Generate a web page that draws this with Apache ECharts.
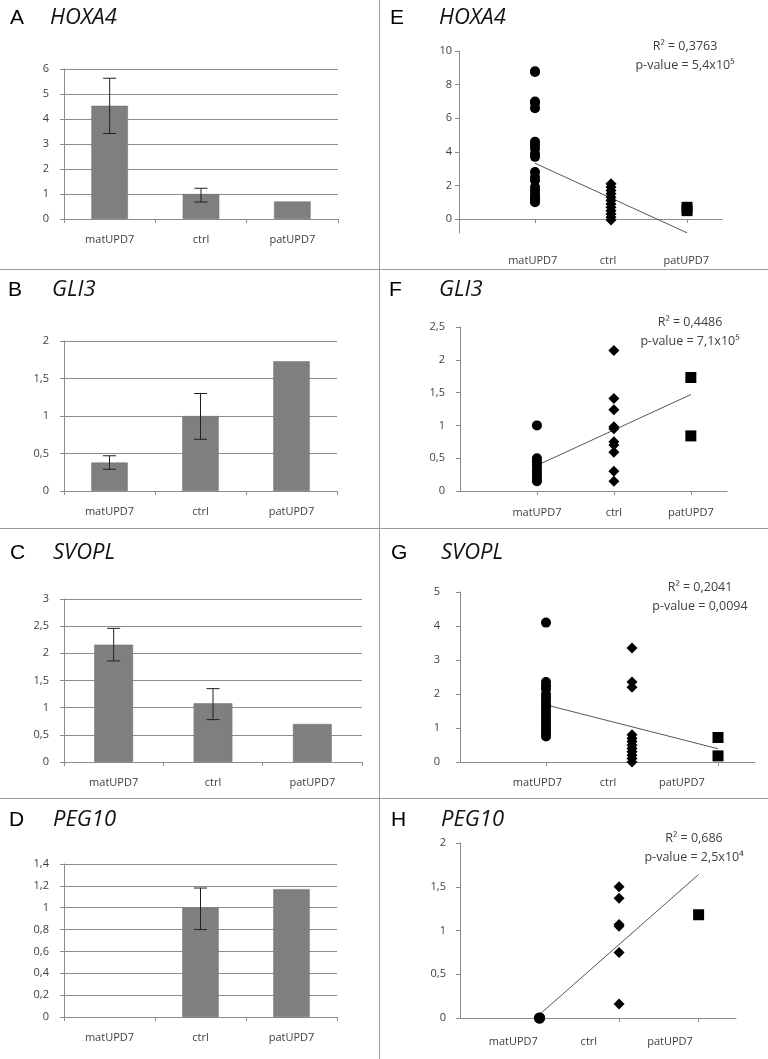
<!DOCTYPE html>
<html><head><meta charset="utf-8">
<script src="https://cdn.jsdelivr.net/npm/echarts@6/dist/echarts.min.js"></script>
<style>html,body{margin:0;padding:0;background:#fff}#c{width:768px;height:1059px}</style>
</head><body><div id="c"></div>
<script>
// ---------- data ----------
const categories = ['matUPD7', 'ctrl', 'patUPD7'];
const panelLetters = ['A', 'B', 'C', 'D', 'E', 'F', 'G', 'H'];
const genes = ['HOXA4', 'GLI3', 'SVOPL', 'PEG10'];

// bar panels (mean expression, error bars low/high)
const hoxa4Bar = [4.53, 1.0, 0.7];
const hoxa4Err = [[3.42, 5.63], [0.68, 1.23], null];
const gli3Bar = [0.38, 1.0, 1.73];
const gli3Err = [[0.29, 0.47], [0.69, 1.30], null];
const svoplBar = [2.16, 1.08, 0.7];
const svoplErr = [[1.86, 2.46], [0.78, 1.35], null];
const peg10Bar = [null, 1.0, 1.17];
const peg10Err = [null, [0.80, 1.18], null];

// scatter panels
const hoxa4Mat = [8.8, 8.75, 7.0, 6.9, 6.6, 4.6, 4.4, 4.2, 3.9, 3.7, 2.8, 2.5, 2.3, 1.9, 1.7, 1.5, 1.3, 1.2, 1.1, 1.0];
const hoxa4Ctrl = [2.1, 1.9, 1.7, 1.5, 1.3, 1.1, 0.9, 0.7, 0.5, 0.3, 0.1, -0.05];
const hoxa4Pat = [0.7, 0.5];
const hoxa4Trend = [3.32, -0.82];

const gli3Mat = [1.0, 0.5, 0.45, 0.4, 0.35, 0.3, 0.25, 0.2, 0.15];
const gli3Ctrl = [2.14, 1.41, 1.24, 0.98, 0.95, 0.75, 0.70, 0.59, 0.30, 0.15];
const gli3Pat = [1.73, 0.84];
const gli3Trend = [0.39, 1.47];

const svoplMat = [4.1, 2.35, 2.25, 2.15, 2.0, 1.9, 1.8, 1.7, 1.6, 1.5, 1.4, 1.3, 1.2, 1.1, 1.0, 0.9, 0.8, 0.75];
const svoplCtrl = [3.35, 2.35, 2.2, 0.8, 0.7, 0.6, 0.5, 0.4, 0.3, 0.2, 0.1, 0.0];
const svoplPat = [0.72, 0.18];
const svoplTrend = [1.68, 0.39];

const peg10Mat = [0, 0];
const peg10Ctrl = [1.50, 1.37, 1.07, 1.05, 0.75, 0.16];
const peg10Pat = [1.18];
const peg10Trend = [0.04, 1.64];

const stats = [
  ['R\u00B2 = 0,3763', 'p-value = 5,4x10\u2075'],
  ['R\u00B2 = 0,4486', 'p-value = 7,1x10\u2075'],
  ['R\u00B2 = 0,2041', 'p-value = 0,0094'],
  ['R\u00B2 = 0,686', 'p-value = 2,5x10\u2074']
];

const barAxes = [[6, 1], [2, 0.5], [3, 0.5], [1.4, 0.2]];
const scatterAxes = [[-0.83, 10, 2], [0, 2.5, 0.5], [0, 5, 1], [0, 2, 0.5]];
const scatterTicks = [0, 2, 4, 6, 8, 10];

// ---------- layout ----------
const barGrids = [
  {left: 64, top: 69, width: 274, height: 150},
  {left: 64, top: 341, width: 273, height: 150},
  {left: 64, top: 599, width: 298, height: 163},
  {left: 64, top: 864, width: 273, height: 153}
];
const scatGrids = [
  {left: 459, top: 51, width: 263, height: 182},
  {left: 460, top: 327, width: 267, height: 164},
  {left: 460, top: 592, width: 295, height: 170},
  {left: 460, top: 843, width: 276, height: 175}
];
const scatXMax = [3.46, 3.47, 3.43, 3.47];
const scatLabelPos = [[0.97, 1.96, 2.99], [1, 2, 3], [0.90, 1.72, 2.58], [0.67, 1.62, 2.64]];
const scatLabelMargin = [22, 16, 15, 18];
const scatYMargin = [7, 15, 20, 14];
const barWidths = ['40%', '40%', '39%', '40%'];
const letterPos = [[10, 18], [8, 290], [10, 553], [9, 820], [390, 18], [389, 290], [391, 553], [391, 820]];
const genePos = [[50, 18], [52, 290], [53, 553], [53, 820], [439, 18], [439, 290], [441, 553], [441, 820]];
const statPos = [[685, 46, 65], [690, 322, 341], [700, 587, 606], [694, 838, 857]];

const AX = '#8c8c8c';
const TXT = '#404040';
const FONT = 'Open Sans';
const fmt = v => String(Math.round(v * 10) / 10).replace('.', ',');

const barSets = [[hoxa4Bar, hoxa4Err], [gli3Bar, gli3Err], [svoplBar, svoplErr], [peg10Bar, peg10Err]];
const scatSets = [
  [hoxa4Mat, hoxa4Ctrl, hoxa4Pat, hoxa4Trend],
  [gli3Mat, gli3Ctrl, gli3Pat, gli3Trend],
  [svoplMat, svoplCtrl, svoplPat, svoplTrend],
  [peg10Mat, peg10Ctrl, peg10Pat, peg10Trend]
];

const grid = [], xAxis = [], yAxis = [], series = [];

barSets.forEach((set, i) => {
  const g = grid.length;
  grid.push(barGrids[i]);
  xAxis.push({
    gridIndex: g, type: 'category', data: categories,
    axisLine: {lineStyle: {color: AX}},
    axisTick: {show: true, length: 4, lineStyle: {color: AX}},
    axisLabel: {color: TXT, fontFamily: FONT, fontSize: 11, margin: 15}
  });
  yAxis.push({
    gridIndex: g, type: 'value', min: 0, max: barAxes[i][0], interval: barAxes[i][1],
    axisLine: {show: true, lineStyle: {color: AX}},
    axisTick: {show: true, length: 4, lineStyle: {color: AX}},
    splitLine: {show: true, lineStyle: {color: AX, width: 1}},
    axisLabel: {color: TXT, fontFamily: FONT, fontSize: 11, margin: 15, formatter: fmt}
  });
  series.push({
    type: 'bar', xAxisIndex: g, yAxisIndex: g, data: set[0],
    barWidth: barWidths[i], itemStyle: {color: '#7f7f7f', borderColor: '#6e6e6e', borderWidth: 0.5},
    silent: true
  });
  const errData = [];
  set[1].forEach((e, k) => { if (e) errData.push([k, e[0], e[1]]); });
  series.push({
    type: 'custom', xAxisIndex: g, yAxisIndex: g, data: errData,
    encode: {x: 0, y: [1, 2]}, silent: true, z: 5,
    renderItem: (params, api) => {
      const x = api.value(0);
      const lo = api.coord([x, api.value(1)]);
      const hi = api.coord([x, api.value(2)]);
      const w = 6.5;
      const st = {stroke: '#202020', lineWidth: 1};
      return {type: 'group', children: [
        {type: 'line', shape: {x1: lo[0], y1: lo[1], x2: hi[0], y2: hi[1]}, style: st},
        {type: 'line', shape: {x1: lo[0] - w, y1: lo[1], x2: lo[0] + w, y2: lo[1]}, style: st},
        {type: 'line', shape: {x1: hi[0] - w, y1: hi[1], x2: hi[0] + w, y2: hi[1]}, style: st}
      ]};
    }
  });
});

scatSets.forEach((set, i) => {
  const g = grid.length;
  grid.push(scatGrids[i]);
  const lp = scatLabelPos[i];
  xAxis.push({
    gridIndex: g, type: 'value', min: 0, max: scatXMax[i],
    axisLine: {onZero: true, lineStyle: {color: AX}},
    axisTick: {show: true, length: 4, customValues: [1, 2, 3], lineStyle: {color: AX}},
    splitLine: {show: false},
    axisLabel: {
      color: TXT, fontFamily: FONT, fontSize: 11, margin: scatLabelMargin[i],
      customValues: lp,
      formatter: v => { const k = lp.findIndex(p => Math.abs(p - v) < 1e-6); return k >= 0 ? categories[k] : ''; }
    }
  });
  const ya = scatterAxes[i];
  const yCfg = {
    gridIndex: g, type: 'value', min: ya[0], max: ya[1],
    axisLine: {show: true, lineStyle: {color: AX}},
    axisTick: {show: true, length: 4, lineStyle: {color: AX}},
    splitLine: {show: false},
    axisLabel: {color: TXT, fontFamily: FONT, fontSize: 11, margin: scatYMargin[i], formatter: fmt}
  };
  if (i === 0) {
    yCfg.axisLabel.customValues = scatterTicks;
    yCfg.axisTick.customValues = scatterTicks;
  } else {
    yCfg.interval = ya[2];
  }
  yAxis.push(yCfg);
  series.push({
    type: 'line', xAxisIndex: g, yAxisIndex: g, data: [[1, set[3][0]], [3, set[3][1]]],
    showSymbol: false, symbol: 'none', lineStyle: {color: '#555', width: 1}, silent: true, z: 3
  });
  const shapes = ['circle', 'diamond', 'rect'];
  const sizes = [10, 11, 11];
  [set[0], set[1], set[2]].forEach((arr, k) => {
    series.push({
      type: 'scatter', xAxisIndex: g, yAxisIndex: g,
      data: arr.map(v => [k + 1, v]),
      symbol: shapes[k], symbolSize: i === 3 && k === 0 ? 11 : sizes[k],
      itemStyle: {color: '#000', opacity: 1}, silent: true, z: 4
    });
  });
});

const graphic = [];
// panel borders
[269, 528, 798].forEach(y => graphic.push({type: 'line', shape: {x1: 0, y1: y + 0.5, x2: 768, y2: y + 0.5}, style: {stroke: '#9a9a9a', lineWidth: 1}, silent: true}));
graphic.push({type: 'line', shape: {x1: 379.5, y1: 0, x2: 379.5, y2: 1059}, style: {stroke: '#9a9a9a', lineWidth: 1}, silent: true});
// titles
panelLetters.forEach((L, i) => {
  graphic.push({type: 'text', x: letterPos[i][0], y: letterPos[i][1], silent: true,
    style: {text: L, fontFamily: 'Liberation Sans', fontSize: 21, fill: '#000', textVerticalAlign: 'middle'}});
  graphic.push({type: 'text', x: genePos[i][0], y: genePos[i][1], silent: true,
    style: {text: genes[i % 4], fontFamily: FONT, fontStyle: 'italic', fontSize: 22, fill: '#111', textVerticalAlign: 'middle'}});
});
// statistics
stats.forEach((s, i) => {
  const p = statPos[i];
  graphic.push({type: 'text', x: p[0], y: p[1], silent: true,
    style: {text: s[0], fontFamily: FONT, fontSize: 12.5, fill: TXT, textAlign: 'center', textVerticalAlign: 'middle'}});
  graphic.push({type: 'text', x: p[0], y: p[2], silent: true,
    style: {text: s[1], fontFamily: FONT, fontSize: 12.5, fill: TXT, textAlign: 'center', textVerticalAlign: 'middle'}});
});

const chart = echarts.init(document.getElementById('c'), null, {renderer: 'canvas'});
chart.setOption({
  animation: false,
  backgroundColor: '#fff',
  grid, xAxis, yAxis, series, graphic
});
</script>
</body></html>
